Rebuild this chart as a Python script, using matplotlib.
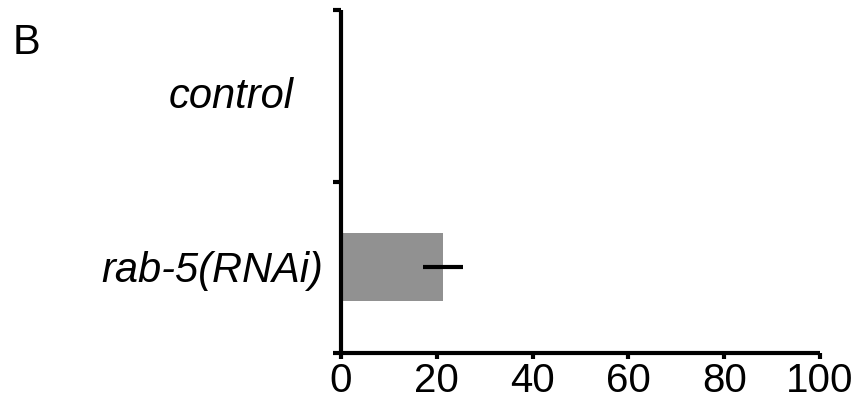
import matplotlib
matplotlib.use("Agg")
import matplotlib.pyplot as plt

# Data
categories = ["control", "rab-5(RNAi)"]
values = [0.0, 21.3]
errors = [0.0, 4.2]
x_ticks = [0, 20, 40, 60, 80, 100]

plt.rcParams["font.family"] = ["Liberation Sans", "DejaVu Sans"]

fig = plt.figure(figsize=(8.61, 4.02), dpi=100)
ax = fig.add_axes([341 / 861, 48 / 402, (820 - 341) / 861, (354 - 11) / 402])

# category positions: control on top, rab-5 below
ypos = [1, 0]
ax.barh(ypos, values, height=0.395, color="#919191", zorder=2)
for y, v, e in zip(ypos, values, errors):
    if e > 0:
        ax.plot([v - e, v + e], [y, y], color="black", lw=3, solid_capstyle="butt", zorder=3)

ax.set_xlim(0, 100)
ax.set_ylim(-0.5, 1.5)
ax.set_xticks(x_ticks)
ax.set_xticklabels([str(t) for t in x_ticks], fontsize=29)
ax.set_yticks([-0.5, 0.5, 1.5])
ax.set_yticklabels([])

for s in ("top", "right"):
    ax.spines[s].set_visible(False)
for s in ("left", "bottom"):
    ax.spines[s].set_linewidth(3)
    ax.spines[s].set_capstyle("butt")
ax.tick_params(axis="x", length=4, width=3, pad=1.5, direction="out")
ax.tick_params(axis="y", length=5.5, width=3, direction="out")

# category labels
label_pos = [(-9.95, 0.934), (-3.7, -0.080)]
for name, (lx, ly) in zip(categories, label_pos):
    ax.text(lx, ly, name, fontsize=30, style="italic", ha="right", va="baseline",
            clip_on=False)

fig.text(13 / 861, 1 - 54 / 402, "B", fontsize=30, ha="left", va="baseline")

fig.savefig("out.png", dpi=100)
